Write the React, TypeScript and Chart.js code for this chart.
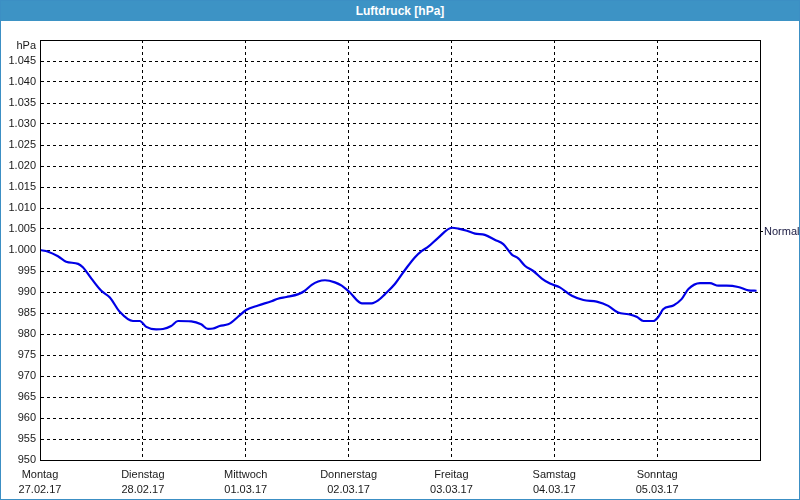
import React, { useEffect, useRef } from "react";
import { Chart, registerables } from "chart.js";

Chart.register(...registerables);

const titleText = "Luftdruck [hPa]";
const unitLabel = "hPa";
const normalLabel = "Normal";
const normalValue = 1004.3;

const dayNames = ["Montag", "Dienstag", "Mittwoch", "Donnerstag", "Freitag", "Samstag", "Sonntag"];
const dayDates = ["27.02.17", "28.02.17", "01.03.17", "02.03.17", "03.03.17", "04.03.17", "05.03.17"];

// hours since Monday 27.02.17 00:00
const hours = [
  0, 1.9, 4.2, 6.1, 8.9, 10.0, 12.0, 14.3, 16.3, 18.6, 21.7, 23.3, 24.8, 27.1, 28.7, 30.6,
  32.2, 35.3, 37.6, 39.2, 40.4, 41.9, 43.9, 44.6, 46.2, 48.1, 50.9, 54.0, 55.5, 57.5, 60.3,
  61.8, 63.4, 64.9, 66.5, 68.8, 70.4, 72.2, 75.1, 77.4, 78.9, 80.5, 82.8, 85.2, 87.5, 89.1,
  90.6, 92.9, 96.1, 97.6, 99.6, 101.5, 103.8, 106.2, 108.1, 110.1, 111.6, 113.2, 115.1,
  117.1, 119.0, 121.3, 124.1, 126.8, 129.9, 132.6, 134.9, 137.3, 139.2, 140.8, 143.1,
  144.3, 145.4, 147.8, 149.7, 151.3, 154.0, 156.3, 158.3, 160.2, 162.9, 165.3, 167.2,
];

const pressure = [
  1000.0, 999.6, 998.5, 997.2, 996.7, 995.9, 993.2, 990.3, 988.7, 985.3, 983.1, 983.1, 981.7,
  981.1, 981.2, 981.9, 983.1, 983.0, 982.3, 981.2, 981.3, 981.9, 982.3, 982.7, 984.1, 985.7,
  986.8, 987.8, 988.4, 988.8, 989.5, 990.3, 991.7, 992.5, 992.8, 992.3, 991.5, 990.0, 987.3,
  987.3, 988.0, 989.5, 991.9, 995.3, 998.3, 999.8, 1000.8, 1002.9, 1005.3, 1005.1, 1004.6,
  1003.9, 1003.6, 1002.4, 1001.4, 998.9, 998.0, 996.2, 995.0, 993.2, 992.0, 991.1, 989.1,
  988.1, 987.7, 986.7, 985.1, 984.7, 984.1, 983.1, 983.1, 984.1, 985.9, 986.8, 988.3, 990.7,
  992.1, 992.1, 991.5, 991.5, 991.2, 990.4, 990.3,
];

const yMin = 950;
const yMax = 1050;
const yStep = 5;
const xMax = 168;
const xStep = 24;

const FONT = "'Liberation Sans', Arial, sans-serif";

function formatPressure(v: number): string {
  if (v >= yMax) return "";
  if (v >= 1000) {
    const rest = Math.round(v - 1000);
    return "1." + String(rest).padStart(3, "0");
  }
  return String(Math.round(v));
}

const frameBorder = {
  id: "frameBorder",
  afterDraw(chart: any) {
    const { ctx, chartArea } = chart;
    ctx.save();
    ctx.strokeStyle = "#000";
    ctx.lineWidth = 1;
    ctx.setLineDash([]);
    const l = Math.round(chartArea.left) + 0.5;
    const t = Math.round(chartArea.top) + 0.5;
    const r = Math.round(chartArea.right) + 0.5;
    const b = Math.round(chartArea.bottom) + 0.5;
    ctx.strokeRect(l, t, r - l, b - t);
    // unit label above the value axis
    ctx.fillStyle = "#1a1a1a";
    ctx.font = "11px " + FONT;
    ctx.textAlign = "right";
    ctx.textBaseline = "middle";
    ctx.fillText(unitLabel, chartArea.left - 4, chartArea.top + 6);
    ctx.restore();
  },
};

export default function App() {
  const canvasRef = useRef<HTMLCanvasElement | null>(null);

  useEffect(() => {
    document.body.style.margin = "0";
    const canvas = canvasRef.current;
    if (!canvas) return;
    const points = hours.map((h, i) => ({ x: h, y: pressure[i] }));
    const chart = new Chart(canvas, {
      type: "line",
      data: {
        datasets: [
          {
            data: points,
            borderColor: "#0000e6",
            borderWidth: 2.2,
            pointRadius: 0,
            fill: false,
            cubicInterpolationMode: "monotone",
            yAxisID: "y",
            xAxisID: "x",
          },
        ],
      },
      options: {
        animation: false,
        responsive: false,
        devicePixelRatio: 1,
        layout: { padding: { top: 19, left: 0, right: 0, bottom: 0 } },
        plugins: {
          legend: { display: false },
          tooltip: { enabled: false },
          title: { display: false },
        },
        scales: {
          x: {
            type: "linear",
            min: 0,
            max: xMax,
            afterBuildTicks(scale: any) {
              const t: any[] = [];
              for (let v = 0; v < xMax; v += xStep) t.push({ value: v });
              scale.ticks = t;
            },
            afterFit(scale: any) {
              scale.height = 39;
            },
            grid: { color: "#000", lineWidth: 1, drawTicks: false },
            border: { display: true, color: "#000", dash: [3, 3] },
            ticks: {
              autoSkip: false,
              maxRotation: 0,
              padding: 7,
              color: "#1a1a1a",
              font: { family: FONT, size: 11, lineHeight: 1.38 },
              callback: (v: any) => {
                const i = Math.round(Number(v) / xStep);
                return [dayNames[i] ?? "", dayDates[i] ?? ""];
              },
            },
          },
          y: {
            type: "linear",
            position: "left",
            min: yMin,
            max: yMax,
            afterFit(scale: any) {
              scale.width = 39;
            },
            grid: { color: "#000", lineWidth: 1, drawTicks: false },
            border: { display: true, color: "#000", dash: [3, 3] },
            ticks: {
              stepSize: yStep,
              autoSkip: false,
              padding: 4,
              color: "#1a1a1a",
              font: { family: FONT, size: 11 },
              callback: (v: any) => formatPressure(Number(v)),
            },
          },
          normal: {
            type: "linear",
            position: "right",
            min: yMin,
            max: yMax,
            afterBuildTicks(scale: any) {
              scale.ticks = [{ value: normalValue }];
            },
            afterFit(scale: any) {
              scale.width = 39;
            },
            grid: { drawOnChartArea: false, drawTicks: true, tickLength: 3, color: "#000" },
            border: { display: true, color: "#000" },
            ticks: {
              padding: 1,
              color: "#1a1a40",
              font: { family: FONT, size: 11 },
              callback: () => normalLabel,
            },
          },
        },
      } as any,
      plugins: [frameBorder],
    });
    return () => chart.destroy();
  }, []);

  return (
    <div
      style={{
        position: "absolute",
        left: 0,
        top: 0,
        width: 800,
        height: 500,
        boxSizing: "border-box",
        border: "1px solid #3c8fc4",
        background: "#ffffff",
      }}
    >
      <div
        style={{
          height: 20,
          background: "#3d93c5",
          color: "#ffffff",
          fontFamily: FONT,
          fontWeight: "bold",
          fontSize: 12,
          lineHeight: "20px",
          textAlign: "center",
        }}
      >
        {titleText}
      </div>
      <canvas ref={canvasRef} width={798} height={478} style={{ display: "block", width: 798, height: 478 }} />
    </div>
  );
}
